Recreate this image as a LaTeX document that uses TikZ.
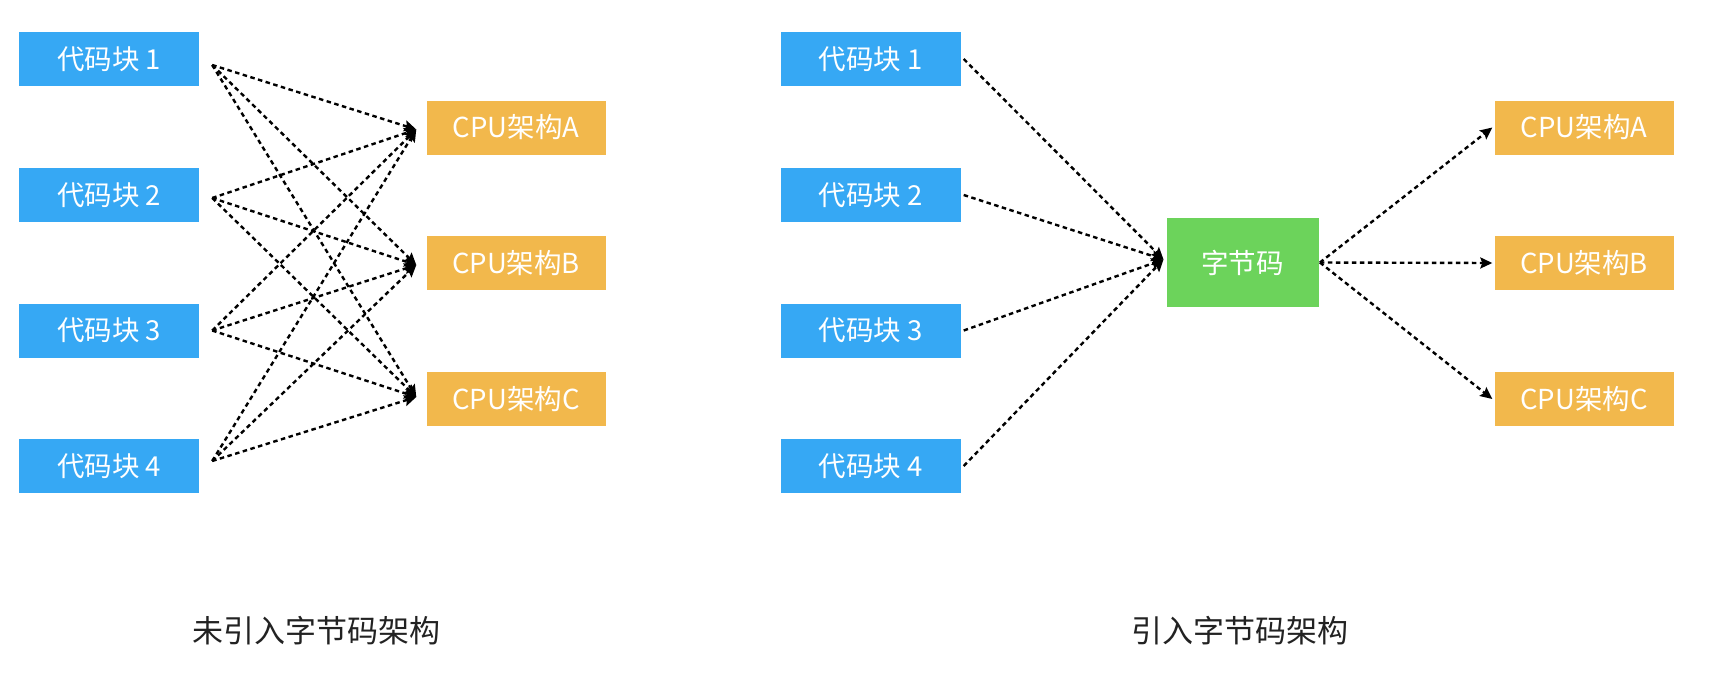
\documentclass[tikz,border=0pt]{standalone}
\usepackage{fontspec}
\setmainfont{Noto Sans CJK SC}
\usetikzlibrary{arrows.meta}
\definecolor{cblue}{RGB}{54,168,244}
\definecolor{corange}{RGB}{242,184,76}
\definecolor{cgreen}{RGB}{108,211,91}
\definecolor{ctext}{RGB}{34,34,34}
\tikzset{
  codebox/.style={fill=cblue,minimum width=180pt,minimum height=54pt,inner sep=0pt,text=white,font=\fontsize{27.5pt}{30pt}\selectfont},
  cpubox/.style={fill=corange,minimum width=179pt,minimum height=54pt,inner sep=0pt,text=white,font=\fontsize{27.5pt}{30pt}\selectfont},
  bytebox/.style={fill=cgreen,minimum width=152pt,minimum height=89pt,inner sep=0pt,text=white,font=\fontsize{27.5pt}{30pt}\selectfont},
  caption/.style={text=ctext,font=\fontsize{31pt}{34pt}\selectfont,inner sep=0pt},
  link/.style={draw=black,line width=2.4pt,dash pattern=on 4.5pt off 3.5pt,-{Stealth[length=12pt,width=11pt,inset=2pt]}}
}
\begin{document}
\begin{tikzpicture}[x=1pt,y=-1pt]
\useasboundingbox (0,0) rectangle (1712,694);
% left diagram
\node[codebox] (l1) at (109,59) {代码块 1};
\node[codebox] (l2) at (109,195) {代码块 2};
\node[codebox] (l3) at (109,330.5) {代码块 3};
\node[codebox] (l4) at (109,466) {代码块 4};
\node[cpubox] (lA) at (516,127.5) {CPU架构A};
\node[cpubox] (lB) at (516,263) {CPU架构B};
\node[cpubox] (lC) at (516,399) {CPU架构C};
\coordinate (s1) at ([xshift=13pt,yshift=-6pt]l1.east);
\coordinate (s2) at ([xshift=13pt,yshift=-3pt]l2.east);
\coordinate (s3) at ([xshift=13pt]l3.east);
\coordinate (s4) at ([xshift=13pt,yshift=5pt]l4.east);
\coordinate (eA) at ([xshift=-10pt,yshift=-2pt]lA.west);
\coordinate (eB) at ([xshift=-10pt,yshift=-2pt]lB.west);
\coordinate (eC) at ([xshift=-10pt,yshift=2pt]lC.west);
\foreach \s in {s1,s2,s3,s4}{
  \foreach \e in {eA,eB,eC}{
    \draw[link] (\s) -- (\e);
  }
}
\node[caption] (capL) at (316.5,631) {未引入字节码架构};
% right diagram
\node[codebox] (r1) at (870.5,59) {代码块 1};
\node[codebox] (r2) at (870.5,195) {代码块 2};
\node[codebox] (r3) at (870.5,330.5) {代码块 3};
\node[codebox] (r4) at (870.5,466) {代码块 4};
\node[bytebox] (bc) at (1242.7,262.5) {字节码};
\node[cpubox] (rA) at (1584,127.5) {CPU架构A};
\node[cpubox] (rB) at (1584,263) {CPU架构B};
\node[cpubox] (rC) at (1584,399) {CPU架构C};
\coordinate (bin) at ([xshift=-3pt,yshift=3pt]bc.west);
\coordinate (bout) at ([xshift=1pt]bc.east);
\foreach \r in {r1,r2,r3,r4}{
  \draw[link] ([xshift=3pt]\r.east) -- (bin);
}
\foreach \o in {rA,rB,rC}{
  \draw[link] (bout) -- ([xshift=-2pt]\o.west);
}
\node[caption] (capR) at (1240,631) {引入字节码架构};
\end{tikzpicture}
\end{document}
